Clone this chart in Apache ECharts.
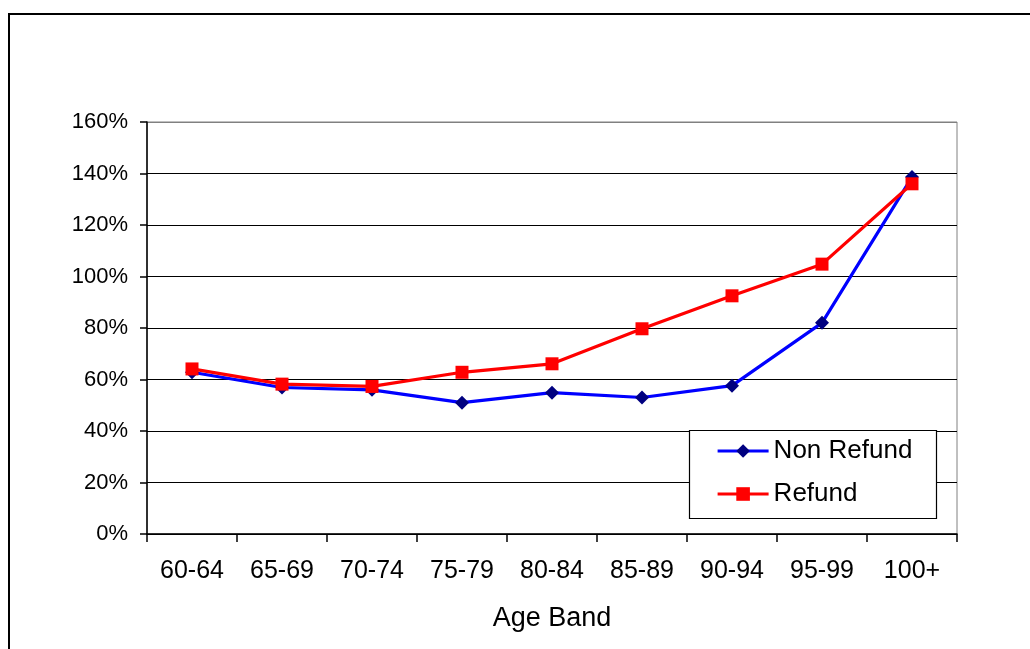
<!DOCTYPE html>
<html>
<head>
<meta charset="utf-8">
<script src="https://cdn.jsdelivr.net/npm/echarts@6/dist/echarts.min.js"></script>
<style>
  html, body { margin: 0; padding: 0; background: #fff; }
  #chart { width: 1030px; height: 649px; }
</style>
</head>
<body>
<div id="chart"></div>
<script>
// Age bands on the category axis
const ageBands = ['60-64', '65-69', '70-74', '75-79', '80-84', '85-89', '90-94', '95-99', '100+'];
// Ratios per age band (1 = 100%)
const nonRefund = [0.628, 0.569, 0.560, 0.510, 0.549, 0.530, 0.576, 0.820, 1.386];
const refund = [0.641, 0.582, 0.573, 0.628, 0.661, 0.797, 0.925, 1.048, 1.360];
// Value axis ticks
const yTicks = [0, 0.2, 0.4, 0.6, 0.8, 1.0, 1.2, 1.4, 1.6];

const FONT = 'Liberation Sans, Arial, sans-serif';
const chart = echarts.init(document.getElementById('chart'), null, { renderer: 'canvas' });

// top grid line doubles as the grey plot border
const splitColors = yTicks.map((t, i) => (i === yTicks.length - 1 ? '#808080' : '#000000'));

chart.setOption({
  backgroundColor: '#ffffff',
  animation: false,
  grid: {
    left: 147, right: 73, top: 122, bottom: 115,
    show: true, borderColor: '#808080', borderWidth: 1, backgroundColor: 'transparent'
  },
  xAxis: {
    type: 'category',
    data: ageBands,
    boundaryGap: true,
    name: 'Age Band',
    nameLocation: 'middle',
    nameGap: 71,
    nameTextStyle: { fontFamily: FONT, fontSize: 27, color: '#000' },
    axisLine: { lineStyle: { color: '#000', width: 1.5 } },
    axisTick: { show: true, length: 8, interval: 0, lineStyle: { color: '#000', width: 1.5 } },
    axisLabel: { fontFamily: FONT, fontSize: 25, color: '#000', margin: 25, interval: 0 },
    splitLine: { show: false }
  },
  yAxis: {
    type: 'value',
    min: yTicks[0],
    max: yTicks[yTicks.length - 1],
    interval: 0.2,
    axisLine: { show: true, lineStyle: { color: '#000', width: 1.5 } },
    axisTick: { show: true, length: 7, lineStyle: { color: '#000', width: 1.5 } },
    axisLabel: {
      fontFamily: FONT, fontSize: 22, color: '#000', margin: 19,
      formatter: v => Math.round(v * 100) + '%'
    },
    splitLine: { show: true, lineStyle: { color: splitColors, width: 1.2 } }
  },
  legend: {
    orient: 'vertical',
    left: 716,
    top: 438,
    z: 10,
    itemWidth: 51,
    itemHeight: 17,
    itemGap: 17,
    padding: 0,
    lineStyle: { width: 3.2 },
    textStyle: { fontFamily: FONT, fontSize: 26, color: '#000' },
    data: ['Non Refund', 'Refund']
  },
  graphic: [
    {
      type: 'rect', z: -1, silent: true,
      shape: { x: 9, y: 14, width: 1040, height: 700 },
      style: { fill: 'none', stroke: '#000', lineWidth: 2 }
    },
    {
      type: 'rect', z: 4, silent: true,
      shape: { x: 689.5, y: 430.5, width: 247, height: 88 },
      style: { fill: '#fff', stroke: '#000', lineWidth: 1.2 }
    }
  ],
  series: [
    {
      name: 'Non Refund',
      type: 'line',
      data: nonRefund,
      symbol: 'diamond',
      symbolSize: 14,
      lineStyle: { color: '#0000ff', width: 3.2 },
      itemStyle: { color: '#000080' },
      z: 2
    },
    {
      name: 'Refund',
      type: 'line',
      data: refund,
      symbol: 'rect',
      symbolSize: 13,
      lineStyle: { color: '#ff0000', width: 3.2 },
      itemStyle: { color: '#ff0000' },
      z: 3
    }
  ]
});
</script>
</body>
</html>
